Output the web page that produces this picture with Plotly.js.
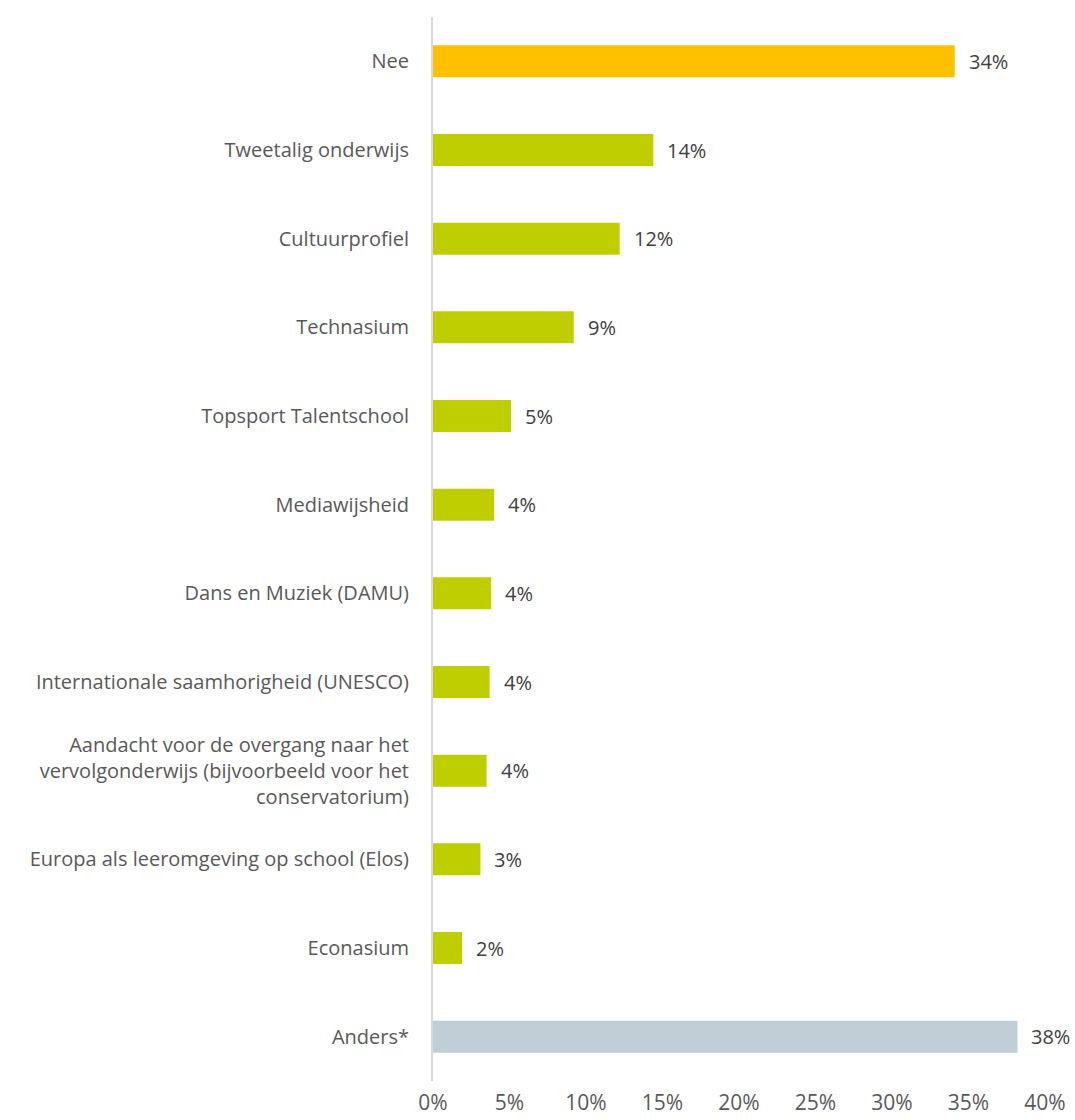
<!DOCTYPE html>
<html><head><meta charset="utf-8">
<script src="https://cdn.plot.ly/plotly-3.0.1.min.js"></script>
<style>html,body{margin:0;padding:0;background:#fff;}#chart{width:1075px;height:1120px;}</style>
</head><body><div id="chart"></div>
<script>
const categories = [
  "Nee",
  "Tweetalig onderwijs",
  "Cultuurprofiel",
  "Technasium",
  "Topsport Talentschool",
  "Mediawijsheid",
  "Dans en Muziek (DAMU)",
  "Internationale saamhorigheid (UNESCO)",
  "Aandacht voor de overgang naar het<br>vervolgonderwijs (bijvoorbeeld voor het<br>conservatorium)",
  "Europa als leeromgeving op school (Elos)",
  "Econasium",
  "Anders*"
];
const values = [34.1, 14.4, 12.2, 9.2, 5.1, 4.0, 3.8, 3.7, 3.5, 3.1, 1.9, 38.2];
const barColors = ["#FFC000","#BFCE00","#BFCE00","#BFCE00","#BFCE00","#BFCE00","#BFCE00","#BFCE00","#BFCE00","#BFCE00","#BFCE00","#C0CFD6"];
const xTicks = [0,5,10,15,20,25,30,35,40];
const xTickLabels = ["0%","5%","10%","15%","20%","25%","30%","35%","40%"];

const fontFam = "'Open Sans', sans-serif";
const trace = {
  type: "bar", orientation: "h",
  x: values, y: categories,
  marker: {color: barColors},
  hoverinfo: "none"
};
const annotations = values.map((v,i)=>({
  x: v, y: categories[i], xref: "x", yref: "y",
  text: Math.round(v) + "%", showarrow: false,
  xanchor: "left", xshift: 12,
  font: {family: fontFam, size: 20, color: "#404040"}
}));
const layout = {
  width: 1075, height: 1120,
  margin: {l: 433, r: 30, t: 17, b: 39},
  paper_bgcolor: "#fff", plot_bgcolor: "#fff",
  showlegend: false,
  bargap: 0.64,
  font: {family: fontFam, size: 20, color: "#595959"},
  xaxis: {
    range: [0, 40], tickvals: xTicks, ticktext: xTickLabels,
    showgrid: false, zeroline: false, showline: false, ticks: "",
    ticklabelstandoff: 7,
    tickfont: {family: fontFam, size: 21, color: "#595959"}
  },
  yaxis: {
    autorange: "reversed", type: "category",
    showline: true, linecolor: "#D9D9D9", linewidth: 2,
    showgrid: false, zeroline: false, ticks: "",
    ticklabelstandoff: 18,
    tickfont: {family: fontFam, size: 20, color: "#595959"}
  },
  annotations: annotations
};
Plotly.newPlot("chart", [trace], layout, {displayModeBar: false, staticPlot: true});
</script>
</body></html>
